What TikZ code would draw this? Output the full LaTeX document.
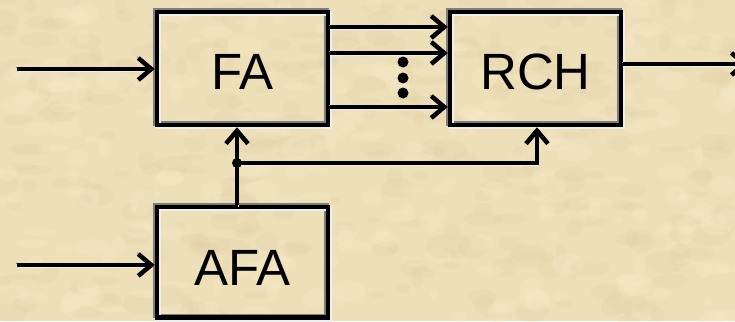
\documentclass[tikz,border=0pt]{standalone}
\usepackage{fontspec}
\setmainfont{Liberation Sans}
\usetikzlibrary{arrows.meta}

\definecolor{parch}{RGB}{237,223,184}
\definecolor{parchdark}{RGB}{218,198,154}
\definecolor{parchlight}{RGB}{249,238,206}
\definecolor{edgegrey}{RGB}{125,125,125}
\definecolor{edgelight}{RGB}{238,238,238}

\begin{document}
\begin{tikzpicture}[x=1pt,y=-1pt,
  % embossed look: grey rim up-left, light rim down-right
  emboss/.style={
    preaction={draw=edgegrey,transform canvas={shift={(-1.5pt,1.5pt)}}},
    preaction={draw=edgelight,transform canvas={shift={(1.5pt,-2pt)}}}},
  blockbox/.style={draw=black, line width=4.5pt, minimum width=171pt,
    minimum height=113pt, inner sep=0pt, text depth=0pt, text height=41pt,
    font=\fontsize{51}{51}\selectfont, emboss},
  conn/.style={draw=black, line width=4.5pt,
    -{Straight Barb[length=13pt,width=22pt]}, emboss},
  dotmark/.style={fill=black}
]
\useasboundingbox (0,0) rectangle (735,321);
% parchment background
\begin{scope}
\clip (0,0) rectangle (735,321);
\fill[parch] (0,0) rectangle (735,321);
\pgfmathsetseed{11}
\foreach \i in {1,...,300}{
  \pgfmathsetmacro\px{rnd*735}
  \pgfmathsetmacro\py{rnd*321}
  \pgfmathsetmacro\rx{5+rnd*16}
  \pgfmathsetmacro\ry{3+rnd*9}
  \fill[parchdark, opacity=0.12] (\px,\py) ellipse ({\rx pt} and {\ry pt});
}
\foreach \i in {1,...,260}{
  \pgfmathsetmacro\px{rnd*735}
  \pgfmathsetmacro\py{rnd*321}
  \pgfmathsetmacro\rx{4+rnd*14}
  \pgfmathsetmacro\ry{3+rnd*8}
  \fill[parchlight, opacity=0.22] (\px,\py) ellipse ({\rx pt} and {\ry pt});
}
\end{scope}

% blocks
\node[blockbox] (FA)  at (242.5,68.5) {FA};
\node[blockbox] (RCH) at (535.5,68.5) {RCH};
\node[blockbox, minimum height=110.5pt, text height=46.5pt] (AFA) at (242.5,262.25) {AFA};

% free ends and the branch point
\coordinate (inFA)   at (17,69);
\coordinate (inAFA)  at (17,265);
\coordinate (outRCH) at (748,64);
\coordinate (junc)   at (237,163);

% inputs
\draw[conn] (inFA) -- (inFA -| FA.west);
\draw[conn] (inAFA) -- (inAFA -| AFA.west);

% parallel links FA -> RCH
\foreach \yy in {27,53,107}
  \draw[conn] (FA.east |- 0,\yy) -- (RCH.west |- 0,\yy);
\foreach \yy in {62,78,93}
  \fill[dotmark] (403,\yy) circle (5.5pt);

% output
\draw[conn] (RCH.east |- 0,64) -- (outRCH);

% AFA feeds both blocks
\draw[conn] (AFA.north -| junc) -- (FA.south -| junc);
\draw[conn] (junc) -| (RCH.south -| 537,0);
\fill[dotmark] (junc) circle (5pt);
\end{tikzpicture}
\end{document}
